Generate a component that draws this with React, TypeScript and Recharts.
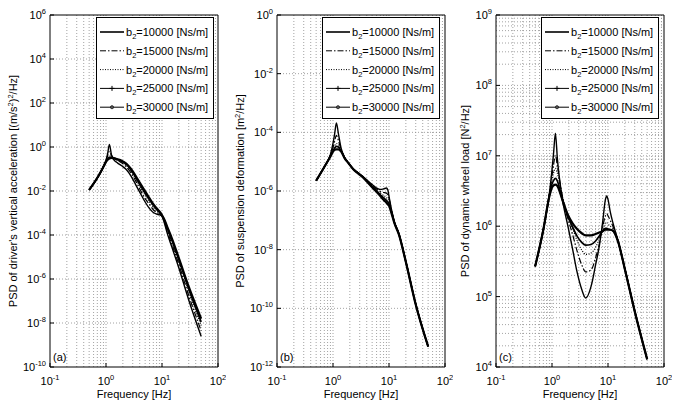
import { CartesianGrid, Line, LineChart, ReferenceArea, XAxis, YAxis } from 'recharts'

const FONT = '"Liberation Sans", Arial, Helvetica, sans-serif'

// shared frequency grid [Hz]
const FREQ = [0.5, 0.7, 0.9, 1.0, 1.07, 1.15, 1.25, 1.4, 1.6, 1.9, 2.3, 2.8, 3.4, 4, 5, 6, 7, 8, 9, 9.5, 10, 11, 12.5, 15, 20, 30, 50]

// suspension damping b2 [Ns/m]
const DAMPING = ['10000', '15000', '20000', '25000', '30000']

// (a) driver's vertical acceleration PSD [(m/s^2)^2/Hz]
const ACC_10000 = [1.12e-2, 3.8e-2, 1.32e-1, 2.51e-1, 5.01e-1, 1.32, 4.47e-1, 2.51e-1, 1.91e-1, 1.41e-1, 9.55e-2, 4.79e-2, 1.91e-2, 8.91e-3, 3.16e-3, 1.58e-3, 1.05e-3, 8.91e-4, 8.32e-4, 7.94e-4, 7.08e-4, 3.55e-4, 1.12e-4, 2.82e-5, 3.16e-6, 1.12e-7, 2.51e-9]
const ACC_15000 = [1.12e-2, 3.89e-2, 1.29e-1, 2.51e-1, 3.98e-1, 6.31e-1, 4.17e-1, 3.02e-1, 2.51e-1, 1.91e-1, 1.26e-1, 6.61e-2, 2.82e-2, 1.26e-2, 4.47e-3, 2.4e-3, 1.41e-3, 1.07e-3, 9.12e-4, 8.32e-4, 7.24e-4, 3.98e-4, 1.41e-4, 3.8e-5, 4.47e-6, 1.78e-7, 4.47e-9]
const ACC_20000 = [1.12e-2, 3.98e-2, 1.29e-1, 2.34e-1, 3.02e-1, 3.98e-1, 3.72e-1, 3.16e-1, 2.69e-1, 2.14e-1, 1.48e-1, 7.94e-2, 3.55e-2, 1.66e-2, 6.31e-3, 3.16e-3, 1.82e-3, 1.26e-3, 1.0e-3, 8.71e-4, 7.41e-4, 4.37e-4, 1.7e-4, 4.79e-5, 6.03e-6, 2.63e-7, 7.59e-9]
const ACC_25000 = [1.12e-2, 3.98e-2, 1.26e-1, 2.19e-1, 2.75e-1, 3.39e-1, 3.39e-1, 3.09e-1, 2.75e-1, 2.29e-1, 1.66e-1, 9.12e-2, 4.17e-2, 2.0e-2, 7.94e-3, 3.98e-3, 2.24e-3, 1.51e-3, 1.1e-3, 9.33e-4, 7.76e-4, 4.79e-4, 2.0e-4, 6.03e-5, 7.59e-6, 3.55e-7, 1.12e-8]
const ACC_30000 = [1.12e-2, 3.98e-2, 1.26e-1, 2.09e-1, 2.63e-1, 3.02e-1, 3.16e-1, 3.02e-1, 2.75e-1, 2.4e-1, 1.78e-1, 1.0e-1, 4.79e-2, 2.4e-2, 9.55e-3, 4.68e-3, 2.51e-3, 1.66e-3, 1.17e-3, 9.77e-4, 7.94e-4, 5.13e-4, 2.24e-4, 7.08e-5, 8.91e-6, 4.47e-7, 1.58e-8]

// (b) suspension deformation PSD [m^2/Hz]
const DEF_10000 = [2.24e-6, 6.61e-6, 1.78e-5, 4.17e-5, 8.91e-5, 2.09e-4, 8.91e-5, 2.82e-5, 1.41e-5, 8.91e-6, 5.62e-6, 4.17e-6, 3.16e-6, 2.4e-6, 1.66e-6, 1.26e-6, 1.12e-6, 1.18e-6, 1.26e-6, 1.1e-6, 6.61e-7, 2.51e-7, 8.91e-8, 3.55e-8, 3.98e-9, 1.41e-10, 5.01e-12]
const DEF_15000 = [2.24e-6, 6.61e-6, 1.66e-5, 3.02e-5, 5.01e-5, 7.94e-5, 5.25e-5, 2.51e-5, 1.41e-5, 8.91e-6, 5.62e-6, 4.17e-6, 3.16e-6, 2.34e-6, 1.58e-6, 1.17e-6, 9.55e-7, 8.91e-7, 8.32e-7, 7.59e-7, 5.62e-7, 2.4e-7, 8.91e-8, 3.55e-8, 3.98e-9, 1.41e-10, 5.01e-12]
const DEF_20000 = [2.24e-6, 6.61e-6, 1.58e-5, 2.51e-5, 3.39e-5, 4.17e-5, 3.8e-5, 2.4e-5, 1.38e-5, 8.91e-6, 5.62e-6, 4.17e-6, 3.16e-6, 2.29e-6, 1.51e-6, 1.07e-6, 8.32e-7, 7.08e-7, 6.03e-7, 5.37e-7, 4.47e-7, 2.19e-7, 8.51e-8, 3.47e-8, 3.89e-9, 1.38e-10, 5.01e-12]
const DEF_25000 = [2.24e-6, 6.61e-6, 1.55e-5, 2.34e-5, 2.88e-5, 3.31e-5, 3.16e-5, 2.34e-5, 1.38e-5, 8.91e-6, 5.62e-6, 4.07e-6, 3.02e-6, 2.19e-6, 1.41e-6, 1.0e-6, 7.41e-7, 5.89e-7, 4.79e-7, 4.27e-7, 3.72e-7, 2.0e-7, 8.32e-8, 3.39e-8, 3.8e-9, 1.38e-10, 5.01e-12]
const DEF_30000 = [2.24e-6, 6.61e-6, 1.51e-5, 2.19e-5, 2.51e-5, 2.63e-5, 2.63e-5, 2.19e-5, 1.35e-5, 8.71e-6, 5.5e-6, 3.98e-6, 2.95e-6, 2.14e-6, 1.35e-6, 9.33e-7, 6.76e-7, 5.01e-7, 3.98e-7, 3.55e-7, 3.16e-7, 1.82e-7, 7.94e-8, 3.31e-8, 3.8e-9, 1.35e-10, 5.01e-12]

// (c) dynamic wheel load PSD [N^2/Hz]
const LOAD_10000 = [2.69e5, 8.91e5, 2.95e6, 6.31e6, 1.12e7, 2.09e7, 8.91e6, 3.98e6, 2.0e6, 1.05e6, 5.01e5, 2.24e5, 1.26e5, 9.55e4, 1.41e5, 2.82e5, 5.25e5, 1.12e6, 2.4e6, 2.69e6, 2.4e6, 1.58e6, 1.05e6, 6.31e5, 2.51e5, 6.31e4, 1.29e4]
const LOAD_15000 = [2.69e5, 8.91e5, 2.88e6, 5.25e6, 7.59e6, 1.02e7, 7.08e6, 3.98e6, 2.24e6, 1.32e6, 7.94e5, 4.47e5, 2.82e5, 2.24e5, 2.4e5, 3.55e5, 5.62e5, 9.55e5, 1.41e6, 1.51e6, 1.41e6, 1.2e6, 9.55e5, 6.31e5, 2.51e5, 6.31e4, 1.29e4]
const LOAD_20000 = [2.69e5, 8.91e5, 2.82e6, 4.57e6, 5.75e6, 6.61e6, 5.62e6, 3.72e6, 2.29e6, 1.45e6, 9.55e5, 6.31e5, 4.57e5, 3.98e5, 4.17e5, 5.01e5, 6.61e5, 8.91e5, 1.1e6, 1.12e6, 1.07e6, 1.0e6, 8.91e5, 6.17e5, 2.45e5, 6.17e4, 1.29e4]
const LOAD_25000 = [2.69e5, 8.91e5, 2.75e6, 3.98e6, 4.47e6, 4.79e6, 4.37e6, 3.16e6, 2.09e6, 1.41e6, 1.0e6, 7.24e5, 5.89e5, 5.37e5, 5.5e5, 6.17e5, 7.24e5, 8.51e5, 9.33e5, 9.33e5, 9.12e5, 8.91e5, 8.51e5, 6.17e5, 2.45e5, 6.17e4, 1.29e4]
const LOAD_30000 = [2.69e5, 8.91e5, 2.69e6, 3.55e6, 3.8e6, 3.89e6, 3.72e6, 2.95e6, 2.14e6, 1.48e6, 1.12e6, 9.12e5, 7.94e5, 7.41e5, 7.41e5, 7.76e5, 8.13e5, 8.51e5, 8.91e5, 8.91e5, 8.91e5, 8.91e5, 8.51e5, 6.17e5, 2.45e5, 6.17e4, 1.29e4]

const FREQ_TICKS = [0.1, 1, 10, 100]
const ACC_TICKS = [1e-10, 1e-8, 1e-6, 1e-4, 1e-2, 1, 1e2, 1e4, 1e6]
const DEF_TICKS = [1e-12, 1e-10, 1e-8, 1e-6, 1e-4, 1e-2, 1]
const LOAD_TICKS = [1e4, 1e5, 1e6, 1e7, 1e8, 1e9]

// 1..9 x 10^k gridlines between two decades (edges left to the frame)
function logGrid(fromExp: number, toExp: number) {
  const out: number[] = []
  for (let e = fromExp; e < toExp; e++) {
    for (let m = 1; m <= 9; m++) {
      if (e === fromExp && m === 1) continue
      out.push(Number((m * Math.pow(10, e)).toPrecision(3)))
    }
  }
  return out
}

const FREQ_GRID = logGrid(-1, 2)

const LINE_STYLES = [
  { width: 1.4, dash: undefined },
  { width: 1.2, dash: '6 2 1.5 2' },
  { width: 1.2, dash: '1 1.5' },
  { width: 1.7, dash: undefined },
  { width: 2.2, dash: undefined },
]

type Part = { t: string; sup?: boolean }

interface PanelDef {
  tag: string
  left: number
  width: number
  rightMargin: number
  series: number[][]
  yDomain: [number, number]
  yTicks: number[]
  yGrid: number[]
  title: Part[]
  titleDx: number
  legendLeft: number
}

const PANELS: PanelDef[] = [
  {
    tag: '(a)',
    left: 0,
    width: 226,
    rightMargin: 8,
    series: [ACC_10000, ACC_15000, ACC_20000, ACC_25000, ACC_30000],
    yDomain: [1e-10, 1e6],
    yTicks: ACC_TICKS,
    yGrid: ACC_TICKS.slice(1, -1),
    title: [{ t: "PSD of driver's vertical acceleration [(m/s" }, { t: '2', sup: true }, { t: ')' }, { t: '2', sup: true }, { t: '/Hz]' }],
    titleDx: 17,
    legendLeft: 96,
  },
  {
    tag: '(b)',
    left: 227,
    width: 226,
    rightMargin: 8,
    series: [DEF_10000, DEF_15000, DEF_20000, DEF_25000, DEF_30000],
    yDomain: [1e-12, 1],
    yTicks: DEF_TICKS,
    yGrid: DEF_TICKS.slice(1, -1),
    title: [{ t: 'PSD of suspension deformation [m' }, { t: '2', sup: true }, { t: '/Hz]' }],
    titleDx: 17,
    legendLeft: 322,
  },
  {
    tag: '(c)',
    left: 446,
    width: 226,
    rightMargin: 8,
    series: [LOAD_10000, LOAD_15000, LOAD_20000, LOAD_25000, LOAD_30000],
    yDomain: [1e4, 1e9],
    yTicks: LOAD_TICKS,
    yGrid: logGrid(4, 9),
    title: [{ t: 'PSD of dynamic wheel load [N' }, { t: '2', sup: true }, { t: '/Hz]' }],
    titleDx: 23,
    legendLeft: 541,
  },
]

function PowerTick({ x, y, payload, side }: any) {
  const exp = Math.round(Math.log10(payload.value))
  if (side === 'x') {
    return (
      <g>
        <line x1={x} x2={x} y1={y} y2={y - 4} stroke="#000" />
        <text x={x} y={y + 18} textAnchor="middle" fontSize={11} fontFamily={FONT} fill="#000">
          10<tspan dy={-5} fontSize={7.5}>{exp}</tspan>
        </text>
      </g>
    )
  }
  return (
    <g>
      <line x1={x} x2={x + 4} y1={y} y2={y} stroke="#000" />
      <text x={x - 4} y={y + 4} textAnchor="end" fontSize={11} fontFamily={FONT} fill="#000">
        10<tspan dy={-5} fontSize={7.5}>{exp}</tspan>
      </text>
    </g>
  )
}

function YTitle({ viewBox, parts, dx }: any) {
  const cx = (viewBox?.x ?? 0) + dx
  const cy = (viewBox?.y ?? 15) + (viewBox?.height ?? 352) / 2
  return (
    <text transform={`rotate(-90 ${cx} ${cy})`} x={cx} y={cy} textAnchor="middle" fontSize={11} fontFamily={FONT} fill="#000">
      {parts.map((p: Part, i: number) =>
        p.sup ? (
          <tspan key={i} dy={-4} fontSize={7.5}>{p.t}</tspan>
        ) : (
          <tspan key={i} dy={i > 0 && parts[i - 1].sup ? 4 : 0}>{p.t}</tspan>
        ),
      )}
    </text>
  )
}

function XTitle({ viewBox }: any) {
  const cx = (viewBox?.x ?? 0) + (viewBox?.width ?? 0) / 2
  const cy = (viewBox?.y ?? 367) + 31
  return (
    <text x={cx} y={cy} textAnchor="middle" fontSize={11} fontFamily={FONT} fill="#000">
      Frequency [Hz]
    </text>
  )
}

function TagLabel({ viewBox, tag }: any) {
  return (
    <text x={(viewBox?.x ?? 0) + 3} y={(viewBox?.y ?? 0) + (viewBox?.height ?? 0) - 6} fontSize={11} fontFamily={FONT} fill="#000">
      {tag}
    </text>
  )
}

function DampingLegend({ left }: { left: number }) {
  const w = 118
  return (
    <svg style={{ position: 'absolute', left, top: 17 }} width={w} height={102}>
      <rect x={0.5} y={0.5} width={w - 1} height={101} fill="#fff" stroke="#000" />
      {DAMPING.map((b, i) => {
        const y = 15 + i * 18.8
        const s = LINE_STYLES[i]
        return (
          <g key={b}>
            <line x1={4} x2={28} y1={y} y2={y} stroke="#000" strokeWidth={i === 0 ? 1.6 : 1} strokeDasharray={s.dash} />
            {i === 3 ? <path d={`M16 ${y - 2.5}V${y + 2.5}M13.5 ${y}H18.5`} stroke="#000" strokeWidth={1} /> : null}
            {i === 4 ? <circle cx={16} cy={y} r={1.6} fill="#555" stroke="#000" strokeWidth={0.6} /> : null}
            <text x={30} y={y + 4} fontSize={11} fontFamily={FONT} fill="#000">
              b<tspan dy={3} fontSize={7.5}>2</tspan>
              <tspan dy={-3}>={b} [Ns/m]</tspan>
            </text>
          </g>
        )
      })}
    </svg>
  )
}

function Panel({ def }: { def: PanelDef }) {
  const rows = FREQ.map((f, i) => ({
    f,
    s1: def.series[0][i],
    s2: def.series[1][i],
    s3: def.series[2][i],
    s4: def.series[3][i],
    s5: def.series[4][i],
  }))

  return (
    <div style={{ position: 'absolute', left: def.left, top: 0 }}>
      <LineChart width={def.width} height={400} data={rows} margin={{ top: 15, right: def.rightMargin, bottom: 0, left: 0 }}>
        <CartesianGrid
          verticalValues={FREQ_GRID}
          horizontalValues={def.yGrid}
          stroke="#8c8c8c"
          strokeDasharray="1 2"
          strokeWidth={0.8}
        />
        <XAxis
          type="number"
          dataKey="f"
          scale="log"
          domain={[0.1, 100]}
          ticks={FREQ_TICKS}
          interval={0}
          allowDataOverflow
          height={33}
          axisLine={false}
          tickLine={false}
          tickSize={0}
          tickMargin={0}
          tick={<PowerTick side="x" />}
          label={<XTitle />}
        />
        <YAxis
          type="number"
          scale="log"
          domain={def.yDomain}
          ticks={def.yTicks}
          interval={0}
          allowDataOverflow
          width={50}
          axisLine={false}
          tickLine={false}
          tickSize={0}
          tickMargin={0}
          tick={<PowerTick side="y" />}
          label={<YTitle parts={def.title} dx={def.titleDx} />}
        />
        {['s1', 's2', 's3', 's4', 's5'].map((key, i) => (
          <Line
            key={key}
            type="monotone"
            dataKey={key}
            stroke="#000"
            strokeWidth={LINE_STYLES[i].width}
            strokeDasharray={LINE_STYLES[i].dash}
            dot={false}
            isAnimationActive={false}
          />
        ))}
        <ReferenceArea
          x1={0.1}
          x2={100}
          y1={def.yDomain[0]}
          y2={def.yDomain[1]}
          fill="none"
          stroke="#000"
          strokeWidth={1}
          ifOverflow="visible"
          label={<TagLabel tag={def.tag} />}
        />
      </LineChart>
      <div style={{ position: 'absolute', left: -def.left, top: 0 }}>
        <DampingLegend left={def.legendLeft} />
      </div>
    </div>
  )
}

export default function App() {
  return (
    <div style={{ position: 'relative', width: 674, height: 400, background: '#fff', overflow: 'hidden', fontFamily: FONT }}>
      <style>{'body{margin:0}'}</style>
      {PANELS.map((p) => (
        <Panel key={p.tag} def={p} />
      ))}
    </div>
  )
}
